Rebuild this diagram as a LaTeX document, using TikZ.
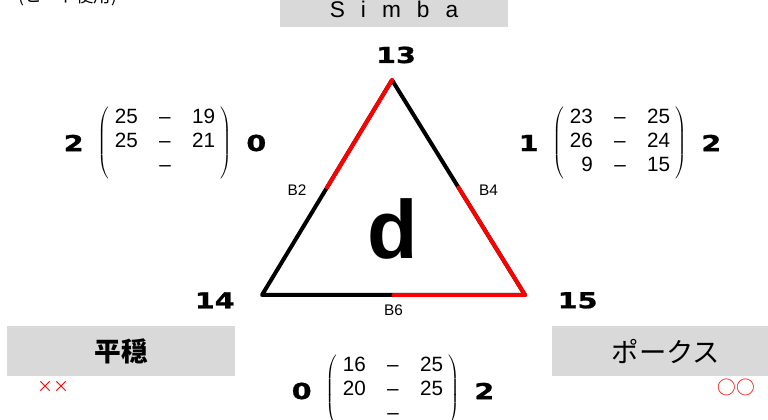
\documentclass[tikz,border=0pt]{standalone}
\usepackage{fontspec}
\setmainfont{Liberation Sans}
\newfontfamily\jpfont{Noto Sans CJK JP}
\newfontfamily\heavyfont{DejaVu Sans}[FakeStretch=1.3, FakeBold=1.2]
\usetikzlibrary{positioning,calc}

\newcommand{\tallymat}[1]{$\left(\begin{tabular}{@{\hspace{4pt}}r@{\hspace{16pt}}c@{\hspace{16pt}}r@{\hspace{4pt}}}#1\end{tabular}\right)$}

\begin{document}
\begin{tikzpicture}[
  x=0.75pt, y=-0.75pt,
  namebox/.style={fill=black!15, minimum width=171pt, minimum height=37.5pt, inner sep=0pt},
  bignum/.style={font=\heavyfont\bfseries\fontsize{16.5}{16.5}\selectfont},
  bondlbl/.style={font=\fontsize{11.5}{11.5}\selectfont},
  tally/.style={font=\jpfont\fontsize{12}{12}\selectfont, text=red},
  mat/.style={font=\fontsize{15.5}{18}\selectfont, inner sep=0pt},
  edge/.style={line width=3pt, line cap=round, line join=round},
  hit/.style={edge, red}
]
\useasboundingbox (0,0) rectangle (768,420);

% header boxes
\node[anchor=west, font=\jpfont\fontsize{13}{13}\selectfont] (note) at (14,-3) {(ヒート使用)};
\node[namebox, minimum height=27pt] (simba) at (394,9) {\fontsize{17}{17}\selectfont S\hspace{12pt}i\hspace{12pt}m\hspace{12pt}b\hspace{12pt}a};
\node[namebox] (heion) at (121,351) {\jpfont\bfseries\fontsize{20}{20}\selectfont 平穏};
\node[namebox] (pokusu) at (666,351) {\jpfont\fontsize{20.5}{20.5}\selectfont ポークス};
\node[tally] (xx) at (53,387) {××};
\node[tally, font=\jpfont\fontsize{14}{14}\selectfont] (oo) at (736,387) {○○};

% triangle
\coordinate (v13) at (392,80);
\coordinate (v14) at (262,295);
\coordinate (v15) at (525,295);
\coordinate (m2) at ($(v13)!0.5!(v14)$);
\coordinate (m4) at ($(v13)!0.5!(v15)$);
\coordinate (m6) at ($(v14)!0.5!(v15)$);
\draw[edge] (v13) -- (v14) -- (v15) -- cycle;
\draw[hit] (v13) -- (m2);
\draw[hit] (m4) -- (v15);
\draw[hit] (m6) -- (v15);

\node[bignum, above=9pt of v13, xshift=3pt] (n13) {13};
\node[bignum, left=17pt of v14, yshift=-4pt] (n14) {14};
\node[bignum, right=21pt of v15, yshift=-4pt] (n15) {15};
\node[bondlbl, left=12pt of m2, yshift=-2pt] (b2) {B2};
\node[bondlbl, right=12pt of m4, yshift=-2pt] (b4) {B4};
\node[bondlbl, below=4pt of m6] (b6) {B6};
\node[font=\bfseries\fontsize{62}{62}\selectfont] (face) at (393,229) {d};

% tallies
\node[mat] (matl) at (165,143) {\tallymat{25 & -- & 19\\ 25 & -- & 21\\ & -- & }};
\node[bignum, left=7pt of matl] (suml) {2};
\node[bignum, right=7pt of matl] (scorel) {0};

\node[mat] (matr) at (620,143) {\tallymat{23 & -- & 25\\ 26 & -- & 24\\ 9 & -- & 15}};
\node[bignum, left=7pt of matr] (sumr) {1};
\node[bignum, right=7pt of matr] (scorer) {2};

\node[mat] (matb) at (393,391) {\tallymat{16 & -- & 25\\ 20 & -- & 25\\ & -- & }};
\node[bignum, left=7pt of matb] (sumb) {0};
\node[bignum, right=7pt of matb] (scoreb) {2};
\end{tikzpicture}
\end{document}
